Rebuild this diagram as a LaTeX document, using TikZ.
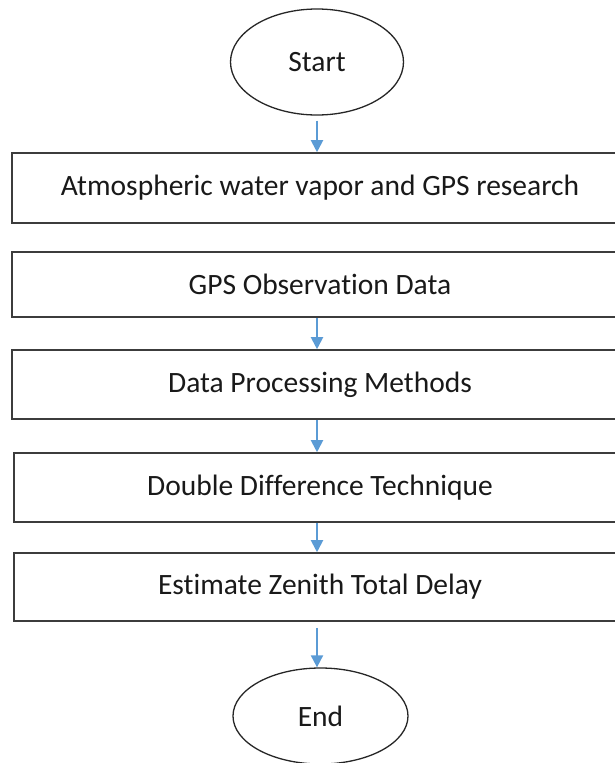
\documentclass[tikz,border=0pt]{standalone}
\usepackage{fontspec}
\setmainfont{Carlito}[Ligatures={NoCommon}]
\usetikzlibrary{shapes.geometric}
\usetikzlibrary{arrows.meta}
\usetikzlibrary{positioning}
\definecolor{flowblue}{RGB}{91,155,213}
\definecolor{boxline}{RGB}{60,60,60}

\begin{document}
\begin{tikzpicture}[x=1pt, y=-1pt,
    every node/.style={font=\fontsize{29.5}{34}\selectfont, text=black!90},
    term/.style={draw=black!85, line width=1.3pt, ellipse, inner sep=0pt},
    stage/.style={draw=boxline, line width=1.6pt, rectangle, minimum width=616pt, inner sep=0pt},
    flow/.style={draw=flowblue, line width=2pt, -{Triangle[width=12pt,length=12pt]}}]
    \useasboundingbox (0,0) rectangle (614,763);

    \node[term, minimum width=173pt, minimum height=106pt] (start) at (317,62) {Start};
    \node[stage, minimum height=70pt] (atmo) at (320,188) {Atmospheric water vapor and GPS research};
    \node[stage, minimum height=65pt] (obs) at (320,284.5) {GPS Observation Data};
    \node[stage, minimum height=69pt] (proc) at (320,384.5) {Data Processing Methods};
    \node[stage, minimum height=69pt, minimum width=612pt] (ddt) at (320,487.5) {Double Difference Technique};
    \node[stage, minimum height=68pt, minimum width=612pt] (ztd) at (320,587) {Estimate Zenith Total Delay};
    \node[term, minimum width=175pt, minimum height=96pt] (end) at (320.5,716) {End};

    % arrows between the stages
    \draw[flow, shorten <=5pt] (start.south) -- (atmo.north -| start);
    \draw[flow] (obs.south -| start) -- (proc.north -| start);
    \draw[flow] (proc.south -| start) -- (ddt.north -| start);
    \draw[flow] (ddt.south -| start) -- (ztd.north -| start);
    \draw[flow, shorten <=6pt] (ztd.south -| start) -- (end.north -| start);
\end{tikzpicture}
\end{document}
